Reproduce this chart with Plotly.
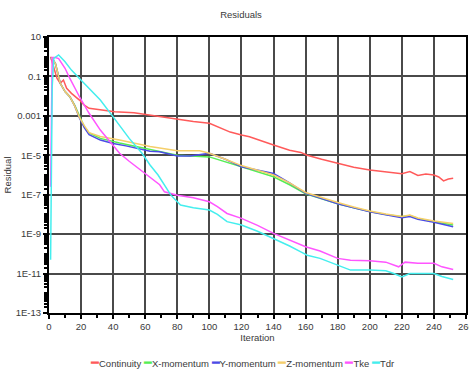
import plotly.graph_objects as go

# ---------------- data ----------------
series_names = ["Continuity", "X-momentum", "Y-momentum", "Z-momentum", "Tke", "Tdr"]
series_colors = ["#ff5a5a", "#55ee55", "#4b4be6", "#f5cf6a", "#ff55ff", "#44eeee"]

cont_x = [1, 2, 3, 4, 5, 7, 9, 11, 14, 19, 22, 25, 32, 41, 53, 63, 69, 80, 90, 100, 106, 113, 120, 125,
          140, 150, 157, 161, 170, 180, 190, 200, 210, 215, 220, 225, 230, 235, 240, 243, 246, 249, 252]
cont_y = [1.0, 0.5, 0.25, 0.126, 0.079, 0.045, 0.066, 0.025, 0.0138, 0.0063, 0.0035, 0.0024, 0.002,
          0.00162, 0.00145, 0.0011, 0.00091, 6.3e-4, 5.2e-4, 4.2e-4, 2.6e-4, 1.5e-4, 1.07e-4, 8.7e-5,
          3.3e-5, 1.8e-5, 1.4e-5, 1.0e-5, 6.3e-6, 3.9e-6, 2.5e-6, 1.8e-6, 1.4e-6, 1.26e-6, 1.17e-6,
          1.48e-6, 9.5e-7, 1.12e-6, 1.0e-6, 7.9e-7, 5.0e-7, 6.3e-7, 6.8e-7]

xmom_x = [1, 2, 4, 7, 10, 13, 16, 19, 22, 25, 32, 44, 63, 80, 100, 120, 140, 150, 160, 170, 180, 190,
          200, 210, 220, 225, 230, 240, 246, 252]
xmom_y = [0.8, 0.8, 0.45, 0.045, 0.017, 0.0093, 0.0035, 8.9e-4, 2.8e-4, 1.35e-4, 7.2e-5, 4.2e-5, 2.0e-5,
          1.0e-5, 8.3e-6, 2.6e-6, 8.1e-7, 3.2e-7, 1.12e-7, 6.3e-8, 3.5e-8, 2.2e-8, 1.4e-8, 1.0e-8,
          7.6e-9, 8.9e-9, 6.3e-9, 4.3e-9, 3.5e-9, 2.9e-9]

ymom_x = [1, 2, 4, 7, 10, 13, 16, 19, 22, 25, 32, 40, 48, 63, 69, 80, 88, 95, 100, 110, 120, 140, 150,
          160, 170, 180, 190, 200, 210, 220, 225, 230, 240, 246, 252]
ymom_y = [0.8, 0.8, 0.45, 0.045, 0.017, 0.0093, 0.0032, 7.9e-4, 2.5e-4, 1.12e-4, 5.9e-5, 4.0e-5, 3.0e-5,
          1.6e-5, 1.5e-5, 9.1e-6, 9.1e-6, 1.12e-5, 1.26e-5, 6.3e-6, 2.6e-6, 1.2e-6, 4.0e-7, 1.17e-7,
          6.3e-8, 3.5e-8, 2.2e-8, 1.35e-8, 9.5e-9, 6.8e-9, 7.9e-9, 5.6e-9, 4.0e-9, 3.2e-9, 2.4e-9]

zmom_x = [1, 2, 4, 7, 10, 13, 16, 19, 22, 25, 32, 44, 63, 80, 94, 100, 110, 120, 140, 150, 160, 170,
          180, 190, 200, 210, 220, 225, 230, 240, 246, 252]
zmom_y = [0.8, 0.8, 0.45, 0.045, 0.017, 0.0093, 0.0032, 8.3e-4, 3.2e-4, 1.4e-4, 8.9e-5, 5.9e-5, 2.8e-5,
          1.7e-5, 1.7e-5, 1.26e-5, 6.3e-6, 3.0e-6, 1.0e-6, 4.0e-7, 1.3e-7, 7.1e-8, 4.0e-8, 2.4e-8,
          1.5e-8, 1.05e-8, 7.9e-9, 9.3e-9, 6.6e-9, 4.7e-9, 4.0e-9, 3.5e-9]

tke_x = [1, 2, 4, 6, 10, 13, 19, 25, 32, 38, 44, 50, 57, 63, 69, 72, 80, 90, 100, 105, 111, 120, 130,
         140, 150, 160, 169, 180, 188, 200, 210, 218, 222, 230, 240, 245, 252]
tke_y = [2.5e-7, 0.9, 0.9, 0.8, 0.26, 0.079, 0.0093, 0.00135, 1.9e-4, 5.0e-5, 1.26e-5, 5.0e-6, 1.8e-6,
         7.1e-7, 3.2e-7, 1.4e-7, 9.5e-8, 7.1e-8, 4.4e-8, 2.5e-8, 1.12e-8, 6.3e-9, 2.8e-9, 1.1e-9,
         5.0e-10, 2.3e-10, 1.4e-10, 5.9e-11, 4.8e-11, 4.5e-11, 3.8e-11, 2.2e-11, 3.8e-11, 3.3e-11,
         3.3e-11, 2.2e-11, 1.6e-11]

tdr_x = [1, 2, 3, 6, 10, 14, 19, 25, 32, 40, 50, 58, 63, 68, 72, 76, 82, 90, 100, 105, 111, 120, 130,
         140, 150, 157, 161, 169, 180, 188, 200, 210, 215, 220, 225, 240, 245, 252]
tdr_y = [5e-11, 0.03, 0.83, 1.23, 0.56, 0.21, 0.079, 0.025, 0.0063, 8.9e-4, 7.2e-5, 1.26e-5, 3.2e-6,
         1.0e-6, 3.2e-7, 9.5e-8, 3.0e-8, 2.2e-8, 1.66e-8, 1.0e-8, 4.3e-9, 2.9e-9, 1.4e-9, 6.2e-10,
         2.5e-10, 1.26e-10, 8.5e-11, 5.9e-11, 2.7e-11, 1.5e-11, 1.5e-11, 1.4e-11, 1.0e-11, 6.8e-12,
         1.0e-11, 1.0e-11, 7.1e-12, 5.0e-12]

x_tick_vals = list(range(0, 261, 20))
y_tick_vals = [10, 0.1, 0.001, 1e-5, 1e-7, 1e-9, 1e-11, 1e-13]
y_tick_text = ["10", "0.1", "0.001", "1E-5", "1E-7", "1E-9", "1E-11", "1E-13"]

series_x = [cont_x, xmom_x, ymom_x, zmom_x, tke_x, tdr_x]
series_y = [cont_y, xmom_y, ymom_y, zmom_y, tke_y, tdr_y]

# ---------------- figure ----------------
fig = go.Figure()
for name, xs, ys, col in zip(series_names, series_x, series_y, series_colors):
    fig.add_trace(go.Scatter(x=xs, y=ys, name=name, mode="lines",
                             line=dict(color=col, width=1.5), showlegend=False))

grid_col = "#4a4a4a"
text_col = "#3a3a3a"
font_family = "Liberation Sans, Arial, sans-serif"

legend_text = " ".join(
    f'<span style="color:{c};font-size:13px">━</span>{n}' for n, c in zip(series_names, series_colors)
)

fig.update_layout(
    width=469, height=370, autosize=False,
    margin=dict(l=49, r=3, t=37, b=57, autoexpand=False),
    paper_bgcolor="white", plot_bgcolor="white",
    font=dict(family=font_family, size=9.5, color=text_col),
    title=dict(text="Residuals", x=241 / 469, xanchor="center", xref="container",
               y=1 - 15 / 370, yanchor="middle", yref="container",
               font=dict(size=9.5, color=text_col)),
    xaxis=dict(range=[0, 260.001], tickmode="array", tickvals=x_tick_vals, ticklabeloverflow="allow",
               automargin=False,
               showgrid=True, gridcolor=grid_col, gridwidth=1.5,
               showline=True, linecolor="black", linewidth=1.5, mirror=True, zeroline=False,
               ticks="outside", ticklen=4, tickcolor="black", tickwidth=1.5,
               minor=dict(tick0=0, dtick=10, ticks="outside", ticklen=3, tickcolor="black", tickwidth=1.5,
                          showgrid=False),
               title=dict(text="Iteration", standoff=3, font=dict(size=9.5))),
    yaxis=dict(type="log", range=[-13, 1], tickmode="array", tickvals=y_tick_vals, ticktext=y_tick_text,
               automargin=False,
               showgrid=True, gridcolor=grid_col, gridwidth=1.5,
               showline=True, linecolor="black", linewidth=2, mirror=True, zeroline=False,
               ticks="outside", ticklen=4, tickcolor="black", tickwidth=1.5,
               minor=dict(dtick="D1", ticks="outside", ticklen=3, tickcolor="black", tickwidth=1.5,
                          showgrid=False),
               title=dict(text="Residual", standoff=2, font=dict(size=9.5))),
    annotations=[dict(text=legend_text, xref="paper", yref="paper", x=(242 - 49) / 417,
                      y=(313 - 362) / 276, xanchor="center", yanchor="middle", showarrow=False,
                      font=dict(size=9.5, color=text_col))],
)

fig.write_html("out.html")
